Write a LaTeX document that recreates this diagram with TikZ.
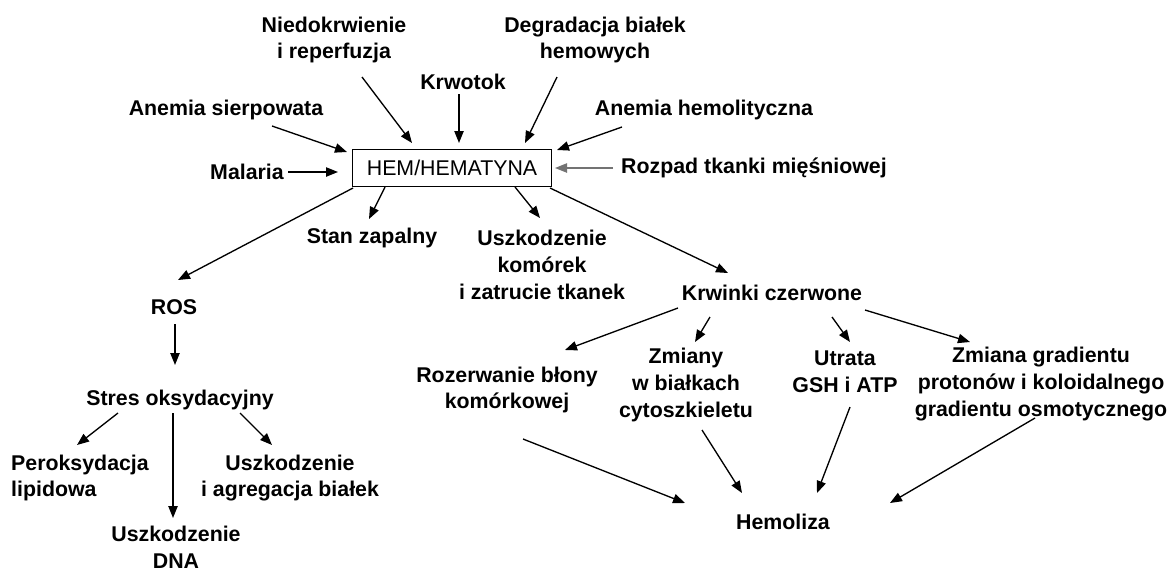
\documentclass[tikz,border=0pt]{standalone}
\usepackage{fontspec}
\setmainfont{Liberation Sans}
\usetikzlibrary{arrows.meta}

\begin{document}
\begin{tikzpicture}[x=0.75pt, y=-0.75pt, line width=1pt,
        every node/.style={font=\fontsize{16}{20}\selectfont\bfseries, align=center, inner sep=0pt},
        arr/.style={-{Triangle[length=9pt, width=7pt]}}]
        \useasboundingbox (0,0) rectangle (1173,572);
        % centre
        \node[draw, font=\fontsize{16}{20}\selectfont, minimum width=149pt, minimum height=28pt]
            (hem) at (452,168) {HEM/HEMATYNA};
        % sources
        \node (niedo) at (334,40) {Niedokrwienie\\i reperfuzja};
        \node (krwotok) at (463,82) {Krwotok};
        \node (degr) at (595,40) {Degradacja białek\\hemowych};
        \node (anemS) at (226,110) {Anemia sierpowata};
        \node (anemH) at (704,110) {Anemia hemolityczna};
        \node (malaria) at (247,172) {Malaria};
        \node (rozpad) at (754,168) {Rozpad tkanki mięśniowej};
        % effects
        \node (stan) at (372,238) {Stan zapalny};
        \node (uszk) at (542,265) {Uszkodzenie\\komórek\\i zatrucie tkanek};
        \node (krw) at (772,293) {Krwinki czerwone};
        \node (ros) at (174,307) {ROS};
        \node (stres) at (180,400) {Stres oksydacyjny};
        \node[align=left] (perok) at (80,478) {Peroksydacja\\lipidowa};
        \node (agreg) at (290,478) {Uszkodzenie\\i agregacja białek};
        \node (dna) at (176,547) {Uszkodzenie\\DNA};
        \node (rozerw) at (507,390) {Rozerwanie błony\\komórkowej};
        \node (zmiany) at (686,385) {Zmiany\\w białkach\\cytoszkieletu};
        \node (utrata) at (845,372) {Utrata\\GSH i ATP};
        \node (zmiana) at (1041,384) {Zmiana gradientu\\protonów i koloidalnego\\gradientu osmotycznego};
        \node (hemoliza) at (783,522) {Hemoliza};
        % connectors
        \foreach \a/\ax/\ay/\b/\bx/\by in {
            niedo/28/37/hem/-40/-25, krwotok/-4/12/hem/7/-25, degr/-38/37/hem/73/-25,
            anemS/46/16/hem/-105/-16, anemH/-82/17/hem/105/-18, malaria/41/0/hem/-114/4,
            hem/-99/20/ros/4/-27, hem/-67/19/stan/-3/-19, hem/63/19/uszk/-2/-47,
            hem/98/20/krw/-44/-20, ros/1/17/stres/-5/-35,
            stres/-62/13/perok/-3/-33, stres/-7/13/dna/-3/-29, stres/60/13/agreg/-18/-33,
            krw/-94/15/rozerw/58/-40, krw/-62/24/zmiany/9/-43,
            krw/60/24/utrata/5/-30, krw/93/17/zmiana/-71/-42,
            rozerw/16/49/hemoliza/-98/-19, zmiany/16/45/hemoliza/-41/-29,
            utrata/5/35/hemoliza/34/-29, zmiana/-6/34/hemoliza/107/-19}
            \draw[arr] ([shift={(\ax,\ay)}]\a.center) -- ([shift={(\bx,\by)}]\b.center);
        \draw[arr, black!55] ([shift={(-141,0)}]rozpad.center) -- ([shift={(103,0)}]hem.center);
    \end{tikzpicture}
\end{document}
